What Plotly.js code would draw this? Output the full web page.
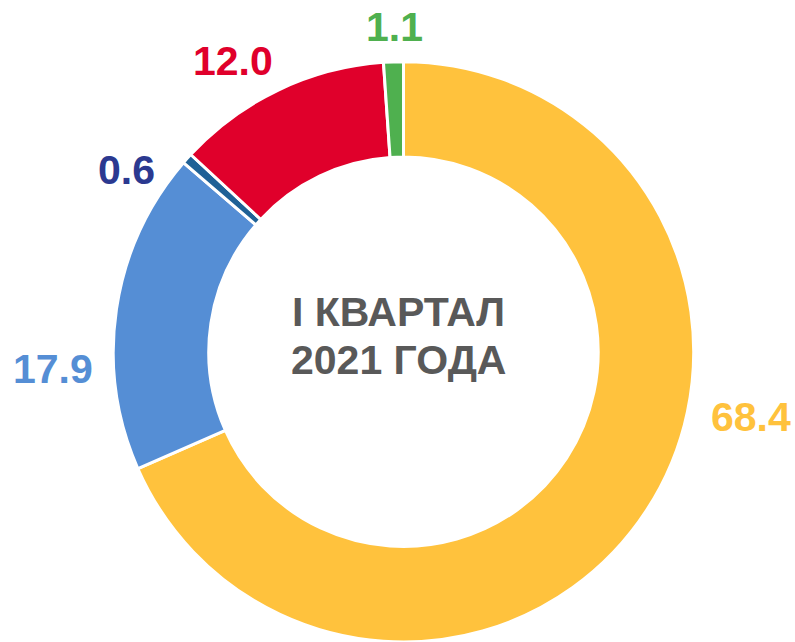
<!DOCTYPE html>
<html>
<head>
<meta charset="utf-8">
<script src="https://cdn.plot.ly/plotly-3.0.1.min.js"></script>
<style>html,body{margin:0;padding:0;background:#fff;}#chart{width:795px;height:642px;}</style>
</head>
<body>
<div id="chart"></div>
<script>
const categories = ["Сегмент 1", "Сегмент 2", "Сегмент 3", "Сегмент 4", "Сегмент 5"];
const values = [68.4, 17.9, 0.6, 12.0, 1.1];
const valueLabels = ["68.4", "17.9", "0.6", "12.0", "1.1"];
const sliceColors = ["#FFC23D", "#558ED5", "#1F6196", "#E0002B", "#4FB04F"];
const labelColors = ["#FFC23D", "#558ED5", "#2B3990", "#E0002B", "#4FB04F"];
const centerLines = ["I КВАРТАЛ", "2021 ГОДА"];

// label positions (paper coords) – layout only
const labelPos = [[0.9447, 0.350], [0.0667, 0.425], [0.1597, 0.735], [0.2925, 0.905], [0.4956, 0.958]];
const centerLineY = [312, 360];

const FONT = '"Liberation Sans", Arial, sans-serif';

const trace = {
  type: 'pie',
  labels: categories,
  values: values,
  sort: false,
  direction: 'clockwise',
  rotation: 0,
  hole: 0.671,
  textinfo: 'none',
  hoverinfo: 'label+value',
  marker: { colors: sliceColors, line: { color: '#ffffff', width: 3 } },
  domain: { x: [0.1421, 0.8730], y: [0, 0.904] },
  showlegend: false
};

const annotations = valueLabels.map((t, i) => ({
  text: t,
  x: labelPos[i][0], y: labelPos[i][1],
  xref: 'paper', yref: 'paper',
  xanchor: 'center', yanchor: 'middle',
  showarrow: false,
  font: { family: FONT, size: 41, color: labelColors[i], weight: 'bold' }
}));
centerLines.forEach((t, i) => annotations.push({
  text: t,
  x: 398 / 795, y: 1 - centerLineY[i] / 642,
  xref: 'paper', yref: 'paper',
  xanchor: 'center', yanchor: 'middle',
  showarrow: false,
  font: { family: FONT, size: 41, color: '#595959', weight: 'bold' }
}));

const layout = {
  width: 795, height: 642,
  margin: { l: 0, r: 0, t: 0, b: 0 },
  paper_bgcolor: '#ffffff',
  plot_bgcolor: '#ffffff',
  annotations: annotations
};

Plotly.newPlot('chart', [trace], layout, { displayModeBar: false, staticPlot: true });
</script>
</body>
</html>
